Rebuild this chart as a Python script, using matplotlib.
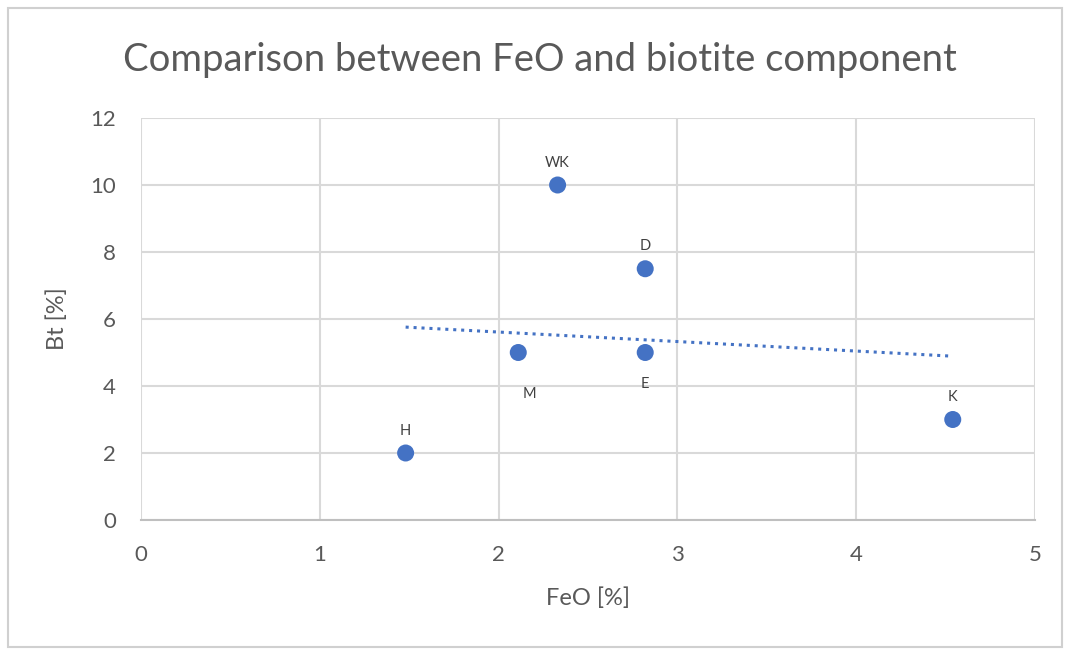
import numpy as np
import matplotlib
matplotlib.use("Agg")
import matplotlib.pyplot as plt
from matplotlib.patches import Rectangle

labels = ["H", "M", "WK", "D", "E", "K"]
feo = [1.48, 2.11, 2.33, 2.82, 2.82, 4.54]
bt = [2, 5, 10, 7.5, 5, 3]
label_pos = ["above", "below", "above", "above", "below", "above"]
xticks = [0, 1, 2, 3, 4, 5]
yticks = [0, 2, 4, 6, 8, 10, 12]

plt.rcParams['font.family'] = ['Lato', 'DejaVu Sans']
color = "#4472C4"
txt = "#595959"

fig = plt.figure(figsize=(10.65, 6.51), dpi=100)
ax = fig.add_axes([141/1065, 1-520/651, (1035-141)/1065, (520-118)/651])

ax.set_xlim(0, 5)
ax.set_ylim(0, 12)
ax.set_xticks(xticks)
ax.set_yticks(yticks)
ax.grid(True, color="#D9D9D9", linewidth=1.5)
ax.set_axisbelow(True)
for s in ["top", "right", "left"]:
    ax.spines[s].set_visible(False)
ax.spines["bottom"].set_color("#BFBFBF")
ax.spines["bottom"].set_linewidth(1.5)
ax.tick_params(length=0, labelsize=16, colors=txt)
ax.tick_params(axis="x", pad=18)
ax.tick_params(axis="y", pad=18)

ax.scatter(feo, bt, s=150, color=color, zorder=3, edgecolors="none")

m, b = np.polyfit(feo, bt, 1)
xs = np.array([min(feo), max(feo)])
ax.plot(xs, m*xs + b, color=color, linestyle=(0, (1, 1.6)), linewidth=2.2, zorder=2)

for lab, x, y, pos in zip(labels, feo, bt, label_pos):
    if pos == "above":
        ax.annotate(lab, (x, y), xytext=(0, 11), textcoords="offset points",
                    ha="center", va="bottom", fontsize=10.5, color="#404040")
    else:
        dx = 8 if lab == "M" else 0
        dy = -25 if lab == "M" else -18
        ax.annotate(lab, (x, y), xytext=(dx, dy), textcoords="offset points",
                    ha="center", va="top", fontsize=10.5, color="#404040")

ax.set_xlabel("FeO [%]", fontsize=17, color=txt, labelpad=16)
ax.set_ylabel("Bt [%]", fontsize=17, color=txt, labelpad=16)
fig.text(540/1065, 1-60/651, "Comparison between FeO and biotite component",
         ha="center", va="center", fontsize=27.5, color=txt)

# outer chart frame
fig.add_artist(Rectangle((8/1065, 4/651), (1062-8)/1065, (643-4)/651, transform=fig.transFigure,
                         fill=False, edgecolor="#D0D0D0", linewidth=1.5))

fig.savefig("out.png", dpi=100)
